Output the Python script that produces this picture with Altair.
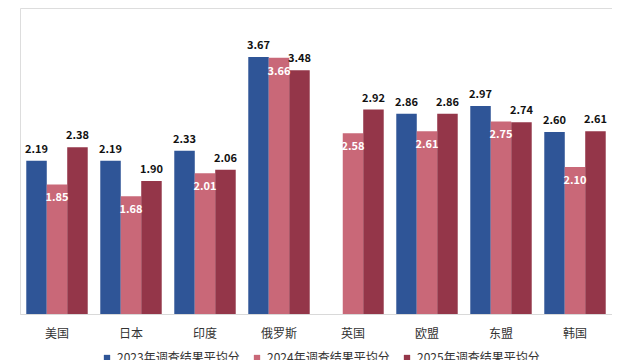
import altair as alt
import pandas as pd

categories = ["美国", "日本", "印度", "俄罗斯", "英国", "欧盟", "东盟", "韩国"]
series_names = ["2023年调查结果平均分", "2024年调查结果平均分", "2025年调查结果平均分"]
v2023 = [2.19, 2.19, 2.33, 3.67, None, 2.86, 2.97, 2.60]
v2024 = [1.85, 1.68, 2.01, 3.66, 2.58, 2.61, 2.75, 2.10]
v2025 = [2.38, 1.90, 2.06, 3.48, 2.92, 2.86, 2.74, 2.61]
colors = ["#2F5597", "#C96878", "#943649"]

rows = []
for name, vals in zip(series_names, [v2023, v2024, v2025]):
    for c, v in zip(categories, vals):
        if v is not None:
            rows.append({"cat": c, "series": name, "value": v, "label": f"{v:.2f}"})
df = pd.DataFrame(rows)

FONT = "Noto Sans CJK SC"

x = alt.X("cat:N", sort=categories, title=None,
          scale=alt.Scale(paddingInner=0.17, paddingOuter=0.085),
          axis=alt.Axis(labelAngle=0, labelFontSize=12, labelColor="#333333",
                        labelFont=FONT, ticks=False, domainColor="#D9D9D9",
                        labelPadding=14))
xo = alt.XOffset("series:N", sort=series_names)
y = alt.Y("value:Q", scale=alt.Scale(domain=[0, 4.37], nice=False), axis=None)

base = alt.Chart(df).encode(x=x, xOffset=xo, y=y)

bars = base.mark_bar(size=20.5).encode(
    color=alt.Color("series:N", sort=series_names,
                    scale=alt.Scale(domain=series_names, range=colors),
                    legend=alt.Legend(title=None, orient="none", direction="horizontal",
                                      legendX=81, legendY=344, padding=0,
                                      symbolType="square", symbolSize=40,
                                      labelFontSize=12, labelFont=FONT,
                                      labelColor="#333333", columnPadding=11,
                                      labelLimit=200))
)

dark_labels = base.transform_filter(
    alt.datum.series != series_names[1]
).mark_text(baseline="middle", dy=-11, fontSize=11, fontWeight="bold",
            color="#111111", font=FONT).encode(text="label:N")

light_labels = base.transform_filter(
    alt.datum.series == series_names[1]
).mark_text(baseline="middle", dy=14, fontSize=11, fontWeight="bold",
            color="#FFFFFF", font=FONT).encode(text="label:N")

chart = alt.layer(bars, dark_labels, light_labels).properties(
    width=592, height=306,
    padding={"left": 12, "top": 0, "right": 0, "bottom": 0}
).configure_view(stroke=None).configure(background="white")

chart.save("out.html", embed_options={"renderer": "svg", "actions": False})
